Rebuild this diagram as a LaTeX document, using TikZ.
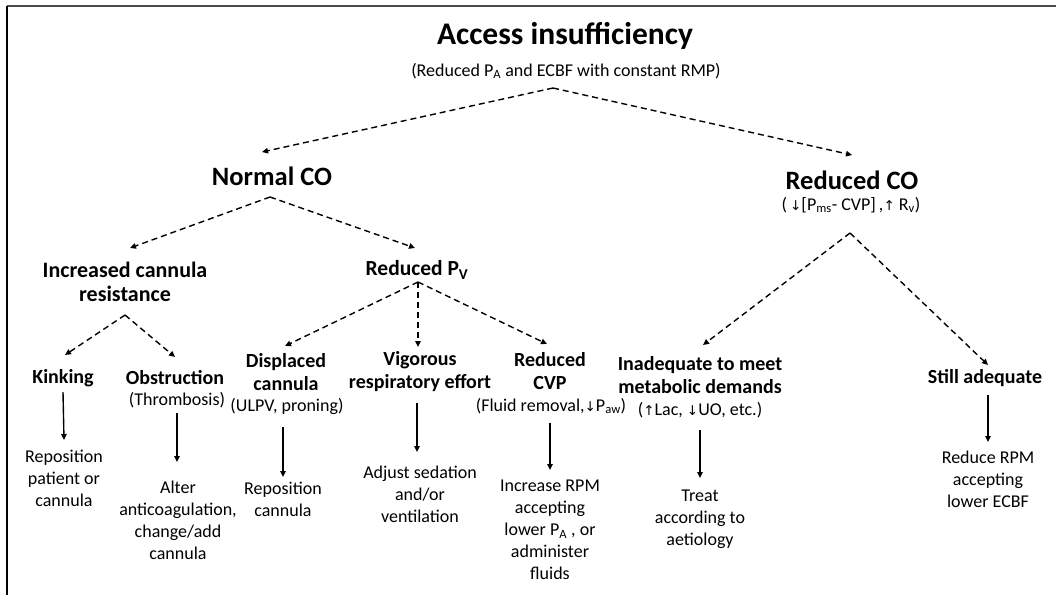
\documentclass[tikz,border=0pt]{standalone}
\usepackage{fontspec}
\setmainfont{Carlito}
\newfontfamily\arrfont{DejaVu Sans}
\usetikzlibrary{arrows.meta,calc}
\newcommand\sbs[1]{\textsubscript{#1}}
\newcommand\mydn{{\arrfont\fontsize{13.5}{13.5}\selectfont ↓}}
\newcommand\myup{{\arrfont\fontsize{13.5}{13.5}\selectfont ↑}}
\begin{document}
\begin{tikzpicture}[x=1pt,y=-1pt,
  ttl/.style={font=\fontsize{31.5}{36}\selectfont\bfseries, inner sep=0pt},
  lvtwo/.style={font=\fontsize{26.5}{30}\selectfont\bfseries, inner sep=0pt},
  hd/.style={font=\fontsize{20}{23}\selectfont\bfseries, align=center, inner sep=0pt},
  hdl/.style={font=\fontsize{22}{24.5}\selectfont\bfseries, align=center, inner sep=0pt},
  txt/.style={font=\fontsize{18}{22}\selectfont, align=center, inner sep=0pt},
  subt/.style={font=\fontsize{18}{22}\selectfont, inner sep=0pt},
  dsh/.style={line width=1.4pt, dash pattern=on 6pt off 4pt, -{Triangle[length=6pt,width=5.5pt]}},
  sld/.style={line width=1.4pt, -{Triangle[length=6pt,width=5.5pt]}},
]
\useasboundingbox (0,0) rectangle (1056,595);
% frame
\draw[line width=2.5pt, color=black!70] (7,6) -- (1056,6);
\draw[line width=2pt] (7,6) -- (7,595);

% level 0
\node[ttl] (tt) at (565,36) {Access insufficiency};
\node[subt] (st) at (566,71) {(Reduced P\sbs{A} and ECBF with constant RMP)};
\coordinate (a0) at ($(st)+(-13,17)$);

% level 1
\node[lvtwo] (nco) at (272,176) {Normal CO};
\node[lvtwo] (rco) at (852,180) {Reduced CO};
\node[subt] (rcs) at (851,205) {(\,\mydn[P\sbs{ms}- CVP]\,,\myup\ R\sbs{v})};
\coordinate (a1) at ($(nco)+(-2,21)$);
\coordinate (a4) at ($(rcs)+(-1,28)$);

% level 2
\node[hdl] (icr) at (125,282) {Increased cannula\\resistance};
\node[hd, font=\fontsize{21.5}{24}\selectfont\bfseries] (rpv) at (417,270) {Reduced P\sbs{V}};
\coordinate (a2) at ($(icr)+(0,33)$);
\coordinate (a3) at ($(rpv)+(1,12)$);

% level 3
\node[hd] (kin) at (63,378) {Kinking};
\node[hd] (obs) at (175,378) {Obstruction};
\node[txt] (thr) at (177,400) {(Thrombosis)};
\node[hd] (dis) at (286,372) {Displaced\\cannula};
\node[txt] (ulpv) at (287,406) {(ULPV, proning)};
\node[hd] (vig) at (420,372) {Vigorous\\respiratory effort};
\node[hd] (rcvp) at (550,371.5) {Reduced\\CVP};
\node[txt] (flu) at (551,406) {(Fluid removal,\mydn P\sbs{aw})};
\node[hd] (ina) at (700,375.5) {Inadequate to meet\\metabolic demands};
\node[txt] (lac) at (700,410) {(\myup Lac, \mydn UO, etc.)};
\node[hd] (sta) at (985,378) {Still adequate};

% level 4
\node[txt] (rk) at (64,478) {Reposition\\patient or\\cannula};
\node[txt] (ro) at (178,520) {Alter\\anticoagulation,\\change/add\\cannula};
\node[txt] (rd) at (283,499) {Reposition\\cannula};
\node[txt] (rv) at (420,494) {Adjust sedation\\and/or\\ventilation};
\node[txt] (rc) at (550,530) {Increase RPM\\accepting\\lower P\sbs{A} , or\\administer\\fluids};
\node[txt] (ri) at (700,519) {Treat\\according to\\aetiology};
\node[txt] (rs) at (988,479) {Reduce RPM\\accepting\\lower ECBF};

% dashed connectors
\draw[dsh] (a0) -- ($(nco)+(-10,-24)$);
\draw[dsh] (a0) -- ($(rco)+(0,-25)$);
\draw[dsh] (a1) -- ($(icr)+(5,-34)$);
\draw[dsh] (a1) -- ($(rpv)+(-2,-22)$);
\draw[dsh] (a2) -- ($(kin)+(2,-23)$);
\draw[dsh] (a2) -- ($(obs)+(0,-21)$);
\draw[dsh] (a3) -- ($(dis)+(-1,-26)$);
\draw[dsh] (a3) -- ($(vig)+(-2,-25)$);
\draw[dsh] (a3) -- ($(rcvp)+(-3,-27.5)$);
\draw[dsh] (a4) -- ($(ina)+(3,-30.5)$);
\draw[dsh] (a4) -- ($(sta)+(3,-13)$);

% solid connectors
\draw[sld] ($(kin)+(0,14)$) -- ($(rk)+(0,-38)$);
\draw[sld] ($(thr)+(0,13)$) -- ($(ro)+(-1,-58)$);
\draw[sld] ($(ulpv)+(-4,21)$) -- ($(rd)+(0,-22)$);
\draw[sld] ($(vig)+(-3,31)$) -- ($(rv)+(-3,-42)$);
\draw[sld] ($(flu)+(-1,17)$) -- ($(rc)+(0,-60)$);
\draw[sld] ($(lac)+(0,20)$) -- ($(ri)+(0,-41)$);
\draw[sld] ($(sta)+(3,17)$) -- ($(rs)+(0,-37)$);
\end{tikzpicture}
\end{document}
